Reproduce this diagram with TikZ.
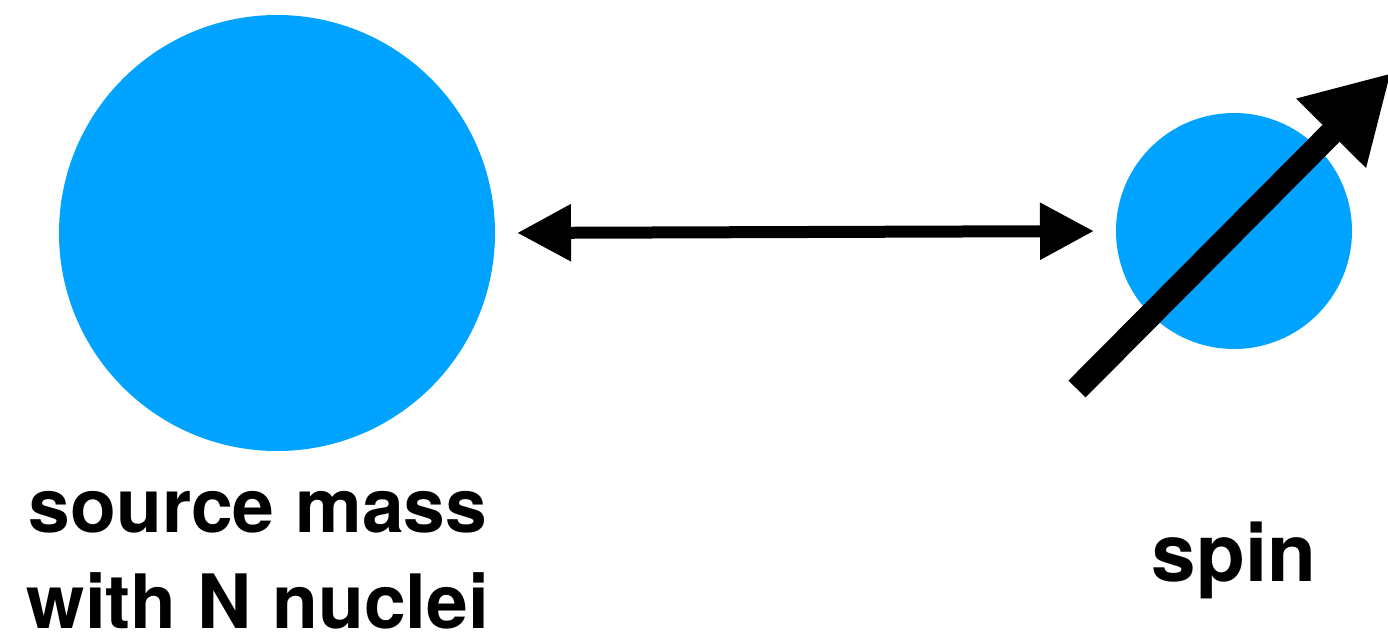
\documentclass[tikz,border=0pt]{standalone}
\usepackage{fontspec}
\setmainfont{TeX Gyre Heros}
\usetikzlibrary{arrows.meta,calc}
\definecolor{ballblue}{HTML}{00A3FF}
\tikzset{
  ball/.style={circle,fill=ballblue,inner sep=0pt,outer sep=0pt},
  link/.style={line width=12pt,{Triangle[length=54pt,width=54pt]}-{Triangle[length=54pt,width=54pt]},shorten <=22pt,shorten >=22pt},
  spinarrow/.style={line width=24pt,-{Triangle[length=85pt,width=92pt]}},
  lbl/.style={font=\bfseries\fontsize{75}{96}\selectfont,align=center,inner sep=0pt,anchor=base}
}
\begin{document}
\begin{tikzpicture}[x=1pt,y=-1pt]
\useasboundingbox (0,0) rectangle (1388,635);
\node[ball,minimum size=436pt] (mass) at (277,233) {};
\node[ball,minimum size=236pt] (spin) at (1234,231) {};
\draw[link] (mass.east) -- (spin.west);
\coordinate (tail) at ($(spin)+(-157,158)$);
\coordinate (tip) at ($(spin)+(157,-158)$);
\draw[spinarrow] (tail) -- (tip);
\node[lbl] (masslbl) at (258,532) {source mass};
\node[lbl] (masslbl2) at (258,628) {with N nuclei};
\node[lbl,font=\bfseries\fontsize{80}{96}\selectfont] (spinlbl) at (1234,581) {spin};
\end{tikzpicture}
\end{document}
